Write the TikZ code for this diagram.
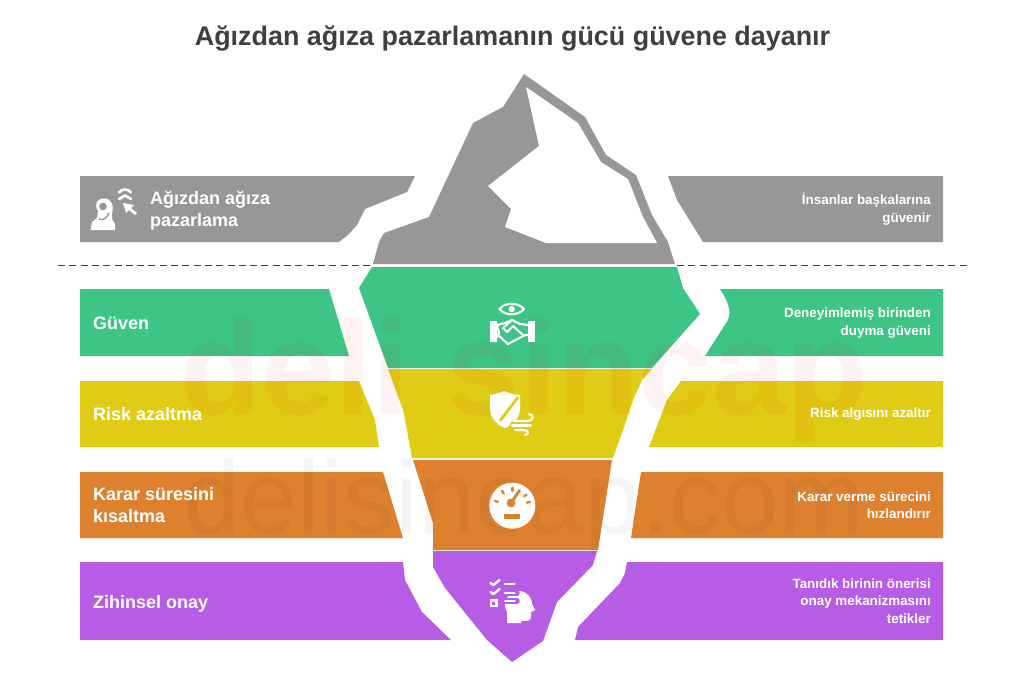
\documentclass[tikz,border=0pt]{standalone}
\usepackage{fontspec}
\usetikzlibrary{calc}
\setmainfont{Liberation Sans}
\definecolor{iceGray}{HTML}{979797}
\definecolor{iceGreen}{HTML}{3DC585}
\definecolor{iceYellow}{HTML}{E0CC14}
\definecolor{iceOrange}{HTML}{DE812F}
\definecolor{icePurple}{HTML}{B75DE5}
\definecolor{titleInk}{HTML}{3F3F3F}
\tikzset{
  leftlabel/.style={anchor=west,align=left,text=white,inner sep=0pt,font=\fontsize{18}{22}\selectfont\bfseries},
  rightlabel/.style={anchor=east,align=right,text=white,inner sep=0pt,font=\fontsize{13.4}{17.5}\selectfont\bfseries},
  iconline/.style={draw=white,line width=2.1pt,line cap=round,line join=round},
  iconfill/.style={fill=white},
  waterline/.style={titleInk,line width=1.9pt,dash pattern=on 7pt off 4.3pt}
}
\begin{document}
\begin{tikzpicture}[x=1pt,y=-1pt]
  \useasboundingbox (0,0) rectangle (1024,683);
  % gray, above the water
  \fill[iceGray] (373,264) -- (379,242) -- (384,233) -- (429,217) -- (473,123) -- (503,107) -- (524,74)
    -- (585,117) -- (606,155) -- (636,175) -- (652,215) -- (668,242) -- (675,264) -- cycle;
  \fill[white] (526,87) -- (578,123) -- (601,162) -- (628,179) -- (643,217) -- (657,243) -- (546,243)
    -- (505,227) -- (511,209) -- (488,186) -- (539,146) -- cycle;
  \fill[iceGray] (80,176) -- (415,176) -- (407,192) -- (365,209) -- (357,225) -- (348,235) -- (339,242) -- (80,242) -- cycle;
  \fill[iceGray] (668,176) -- (677,200) -- (703,242) -- (943,242) -- (943,176) -- cycle;
  % green
  \fill[iceGreen] (372,267) -- (359,288) -- (388,368) -- (652,368) -- (700,314) -- (683,288) -- (677,267) -- cycle;
  \fill[iceGreen] (80,289) -- (329,289) -- (349,356) -- (80,356) -- cycle;
  \fill[iceGreen] (720,289) .. controls (727,300) and (732,310) .. (728,320) -- (705,356) -- (943,356) -- (943,289) -- cycle;
  % yellow
  \fill[iceYellow] (388,369) -- (403,410) -- (407,430) -- (412,458) -- (613,458) -- (623,430) -- (633,400) -- (642,380) -- (652,369) -- cycle;
  \fill[iceYellow] (80,381) -- (359,381) -- (375,420) -- (379,447) -- (80,447) -- cycle;
  \fill[iceYellow] (681,381) -- (667,400) -- (649,447) -- (943,447) -- (943,381) -- cycle;
  % orange
  \fill[iceOrange] (413,460) -- (433,523) -- (433,550) -- (598,550) -- (612,460) -- cycle;
  \fill[iceOrange] (80,472) -- (383,472) -- (403,538) -- (80,538) -- cycle;
  \fill[iceOrange] (641,472) -- (631,538) -- (943,538) -- (943,472) -- cycle;
  % purple
  \fill[icePurple] (433,551) -- (433,567) -- (445,588) -- (487,640) -- (512,662) -- (543,641) -- (557,602) -- (593,565) -- (597,551) -- cycle;
  \fill[icePurple] (80,562) -- (403,562) -- (405,580) -- (422,612) -- (451,640) -- (80,640) -- cycle;
  \fill[icePurple] (627,562) -- (625,573) -- (620,583) -- (578,627) -- (575,640) -- (943,640) -- (943,562) -- cycle;
  % water line
  \coordinate (waterLeftA) at (58,265.5);
  \coordinate (waterLeftB) at (373,265.5);
  \coordinate (waterRightA) at (677,265.5);
  \coordinate (waterRightB) at (968,265.5);
  \draw[waterline] (waterLeftA) -- (waterLeftB);
  \draw[waterline] (waterRightA) -- (waterRightB);
  % marks across the picture
  \node[text=red,opacity=0.05,inner sep=0pt,font=\fontsize{133}{133}\selectfont\bfseries] (markBrand) at (524,380) {deli sincap};
  \node[text=black,opacity=0.04,inner sep=0pt,font=\fontsize{103}{103}\selectfont] (markSite) at (524,507) {delisincap.com};
  % title
  \node[text=titleInk,inner sep=0pt,font=\fontsize{26.9}{32}\selectfont\bfseries] (title) at (512.5,38) {Ağızdan ağıza pazarlamanın gücü güvene dayanır};
  % left column
  \node[leftlabel] (wordMouth) at (150,211) {Ağızdan ağıza\\pazarlama};
  \node[leftlabel] (trust) at (93,323) {Güven};
  \node[leftlabel] (riskCut) at (93,414) {Risk azaltma};
  \node[leftlabel] (timeCut) at (93,505) {Karar süresini\\kısaltma};
  \node[leftlabel] (mindOk) at (93,603.5) {Zihinsel onay};
  % right column
  \node[rightlabel] (peopleTrust) at (931,209) {İnsanlar başkalarına\\güvenir};
  \node[rightlabel] (heardTrust) at (931,323) {Deneyimlemiş birinden\\duyma güveni};
  \node[rightlabel] (riskSense) at (931,414) {Risk algısını azaltır};
  \node[rightlabel] (speedUp) at (931,505) {Karar verme sürecini\\hızlandırır};
  \node[rightlabel] (approval) at (931,601) {Tanıdık birinin önerisi\\onay mekanizmasını\\tetikler};
  % person and cursor
  \fill[iconfill] (90.5,230) -- (92,222) -- (97,218) -- (98,211) .. controls (93,203) and (98,198) .. (105,198.5)
    .. controls (112,199) and (114,206) .. (112,214) -- (112,219) -- (115,224) -- (115,230) -- cycle;
  \fill[iceGray] (103,206.5) circle[radius=3.8pt];
  \draw[iceGray,line width=1.4pt] (99,219) .. controls (103,221) and (107,218) .. (109,213);
  \fill[iconfill] (123,203) -- (134,205) -- (131,208) -- (137,213) -- (135,215) -- (129,210) -- (126,213) -- cycle;
  \draw[iconline,line width=2.6pt] (119,192.5) .. controls (122,188.5) and (128,188.5) .. (131,192.5);
  \draw[iconline,line width=2.6pt] (119,199) -- (125,195.5) -- (131,199);
  % eye and handshake
  \draw[iconline] (499.5,309) .. controls (505,302) and (518,302) .. (524,309) .. controls (518,316) and (505,316) .. (499.5,309) -- cycle;
  \fill[iconfill] (511.7,309) circle[radius=3.2pt];
  \fill[iconfill] (490,321) rectangle (497,342);
  \fill[iconfill] (528,321) rectangle (535,342);
  \draw[iconline] (497,325) -- (505,323) -- (512,320) -- (520,324) -- (528,325);
  \draw[iconline] (497,337) -- (499,333) -- (497,325);
  \draw[iconline] (499,336) -- (508,344) -- (525,335) -- (528,335);
  \draw[iconline] (512,320) -- (503,328) -- (507,332) -- (513,326) -- (524,336);
  % shield and wind
  \fill[iconfill] (490,395) .. controls (496,394) and (500,393) .. (504,391) .. controls (509,393) and (514,395) .. (520,395)
    -- (520,408) .. controls (520,418) and (513,425) .. (505,428) .. controls (497,425) and (490,418) .. (490,408) -- cycle;
  \draw[iceYellow,line width=2.8pt] (518,397) -- (500,421);
  \draw[iceYellow,line width=9pt,line cap=round] (514,425.5) -- (530,425.5);
  \draw[iconline] (514,421) -- (528,421) .. controls (534,421) and (534,414) .. (529,414);
  \draw[iconline] (512,425.5) -- (531,425.5);
  \draw[iconline] (515,430) -- (524,430) .. controls (529,430) and (529,435) .. (525,435);
  % gauge
  \coordinate (gaugeHub) at (512.3,505.7);
  \fill[iconfill] (gaugeHub) circle[radius=23pt];
  \foreach \tickang in {-165,-125,-90,-38,-12}
    \draw[iceOrange,line width=2.4pt,line cap=round] ($(gaugeHub)+(\tickang:15)$) -- ($(gaugeHub)+(\tickang:18)$);
  \fill[iceOrange] (511,503) circle[radius=4.4pt];
  \draw[iceOrange,line width=3pt,line cap=round] (511,503) -- (519.5,490.5);
  \fill[iceOrange] (504,513.5) rectangle (520,518.5);
  % checklist and head
  \fill[iconfill] (507,623) -- (507,612) .. controls (503,606) and (505,596) .. (514,592) .. controls (523,588) and (532,596) .. (532,604)
    -- (535,610) -- (531,612) -- (531,617) .. controls (531,621) and (527,621) .. (521,621) -- (521,623) -- cycle;
  \foreach \rowy in {584,593,601}
    \draw[icePurple,line width=5.4pt,line cap=round] (503,\rowy) -- (517,\rowy);
  \foreach \rowy in {584,593,601}
    \draw[iconline,line width=2.6pt] (505,\rowy) -- (514.5,\rowy);
  \foreach \rowy in {584,593}
    \draw[iconline,line width=2.4pt] (490.5,\rowy-1) -- (493.5,\rowy+1) -- (499.5,\rowy-4);
  \draw[white,line width=2.6pt] (491,600.5) rectangle (496.5,606);
\end{tikzpicture}
\end{document}
